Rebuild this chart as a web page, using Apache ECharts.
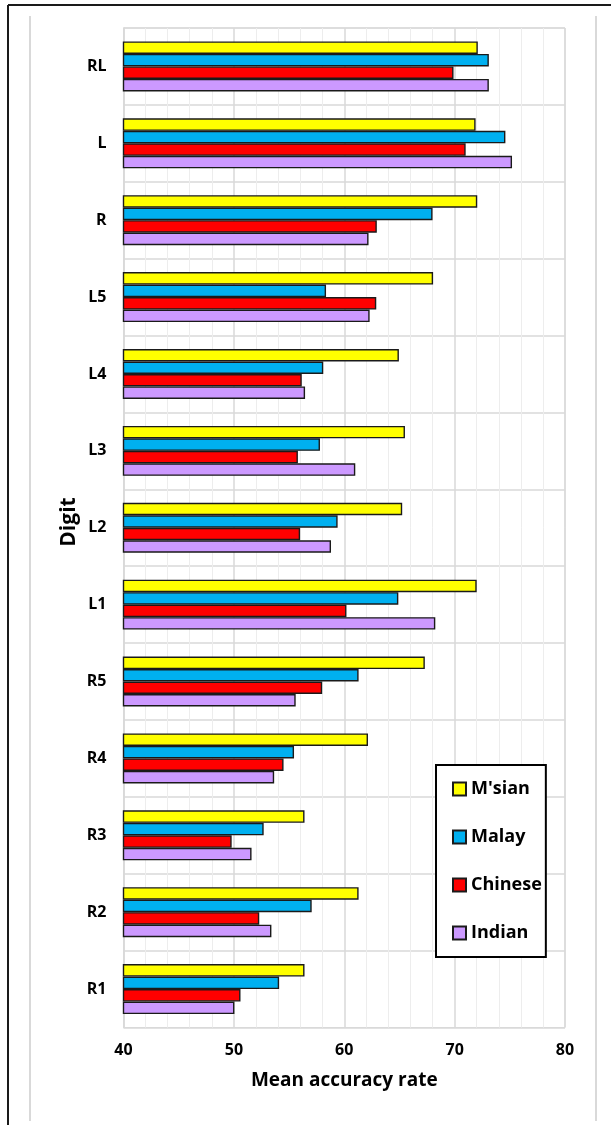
<!DOCTYPE html>
<html>
<head>
<meta charset="utf-8">
<script src="https://cdn.jsdelivr.net/npm/echarts@6/dist/echarts.min.js"></script>
<style>
   html, body { margin: 0; padding: 0; background: #ffffff; }
   #chart { width: 611px; height: 1125px; }
</style>
</head>
<body>
<div id="chart"></div>
<script>

// digits, listed top to bottom as in the picture
const digits = ['RL', 'L', 'R', 'L5', 'L4', 'L3', 'L2', 'L1', 'R5', 'R4', 'R3', 'R2', 'R1'];

const msian   = [72.1, 71.9, 72.05, 68.05, 64.95, 65.5, 65.25, 72.0, 67.3, 62.15, 56.4, 61.3, 56.4];
const malay   = [73.1, 74.6, 68.0, 58.35, 58.1, 57.8, 59.4, 64.9, 61.3, 55.45, 52.7, 57.05, 54.1];
const chinese = [69.9, 71.0, 62.95, 62.9, 56.15, 55.8, 56.0, 60.2, 58.0, 54.5, 49.8, 52.3, 50.6];
const indian  = [73.1, 75.2, 62.2, 62.3, 56.45, 61.0, 58.8, 68.25, 55.6, 53.65, 51.6, 53.4, 50.05];

const seriesNames = ["M'sian", 'Malay', 'Chinese', 'Indian'];
const seriesData = [msian, malay, chinese, indian];
const seriesColors = ['#ffff00', '#00b0f0', '#ff0000', '#cc99ff'];

const xTicks = [40, 50, 60, 70, 80];

const font = '"Open Sans", "Noto Sans", sans-serif';

var chart = echarts.init(document.getElementById('chart'));

var series = [];
for (var i = 0; i < seriesNames.length; i++)
{
   series.push({
      name: seriesNames[i],
      type: 'bar',
      data: seriesData[i],
      barGap: '0%',
      barCategoryGap: '35%',
      itemStyle: { color: seriesColors[i], borderColor: '#1a1a1a', borderWidth: 1.4 }
   });
}

var option =
{
   animation: false,
   backgroundColor: '#ffffff',
   textStyle: { fontFamily: font },
   grid: { left: 123.5, right: 46, top: 28, bottom: 97.5, show: true, borderColor: '#d9d9d9', borderWidth: 1 },
   legend:
   {
      orient: 'vertical',
      left: 436,
      top: 765,
      padding: [14, 4, 14, 16],
      itemGap: 28,
      itemWidth: 13,
      itemHeight: 13,
      icon: 'rect',
      backgroundColor: '#ffffff',
      borderColor: '#000000',
      borderWidth: 2,
      borderRadius: 0,
      data: seriesNames,
      textStyle: { fontFamily: font, fontSize: 18, fontWeight: 'bold', color: '#000000', lineHeight: 20 }
   },
   xAxis:
   {
      type: 'value',
      min: xTicks[0],
      max: xTicks[xTicks.length - 1],
      interval: 10,
      name: 'Mean accuracy rate',
      nameLocation: 'middle',
      nameGap: 44,
      nameTextStyle: { fontFamily: font, fontSize: 19, fontWeight: 'bold', color: '#000000' },
      axisLine: { show: false },
      axisTick: { show: false },
      axisLabel: { fontFamily: font, fontSize: 16, fontWeight: 'bold', color: '#000000', margin: 15 },
      splitLine: { show: true, lineStyle: { color: '#d9d9d9', width: 1.5 } },
      minorTick: { show: false, splitNumber: 5 },
      minorSplitLine: { show: true, lineStyle: { color: '#ededed', width: 1 } }
   },
   yAxis:
   {
      type: 'category',
      inverse: true,
      data: digits,
      axisLine: { show: true, lineStyle: { color: '#d9d9d9', width: 1.5 } },
      axisTick: { show: false },
      axisLabel: { fontFamily: font, fontSize: 16, fontWeight: 'bold', color: '#000000', margin: 17 },
      splitLine: { show: true, lineStyle: { color: '#d9d9d9', width: 1.5 } }
   },
   graphic:
   [
      // outer frame (top and left edges)
      { type: 'line', shape: { x1: 8, y1: 5, x2: 611, y2: 5 }, style: { stroke: '#1a1a1a', lineWidth: 2 } },
      { type: 'line', shape: { x1: 8, y1: 5, x2: 8, y2: 1125 }, style: { stroke: '#1a1a1a', lineWidth: 2 } },
      // inner chart area edges
      { type: 'line', shape: { x1: 30, y1: 16, x2: 30, y2: 1121 }, style: { stroke: '#d9d9d9', lineWidth: 2 } },
      { type: 'line', shape: { x1: 596, y1: 16, x2: 596, y2: 1121 }, style: { stroke: '#d9d9d9', lineWidth: 2 } },
      // y axis title
      {
         type: 'text',
         x: 69,
         y: 522,
         rotation: Math.PI / 2,
         style:
         {
            text: 'Digit',
            fontFamily: font,
            fontSize: 21,
            fontWeight: 'bold',
            fill: '#000000',
            align: 'center',
            verticalAlign: 'middle'
         }
      }
   ],
   series: series
};

chart.setOption(option);

</script>
</body>
</html>
